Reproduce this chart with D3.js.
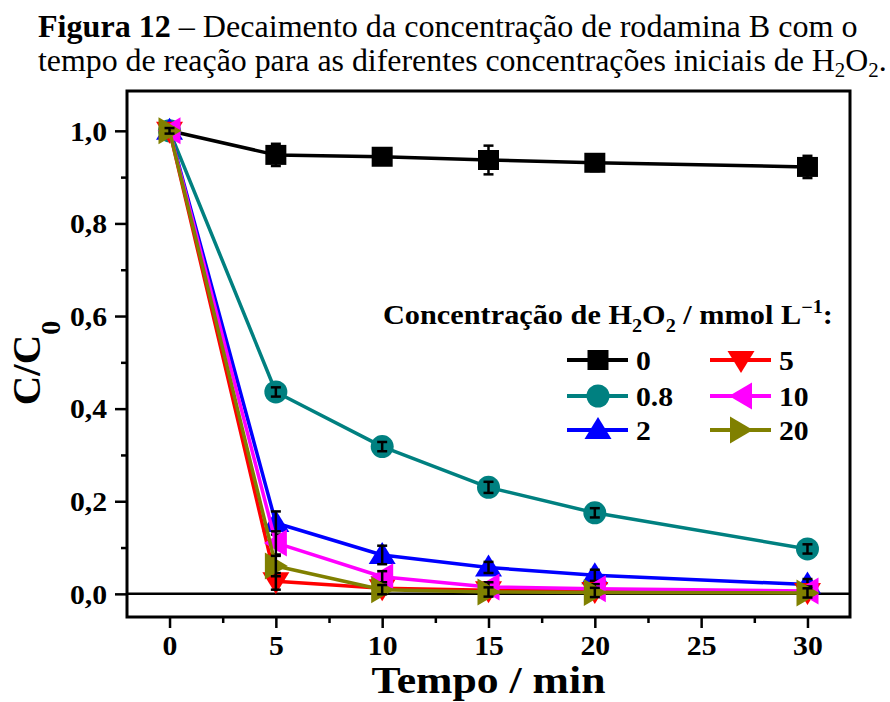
<!DOCTYPE html>
<html>
<head>
<meta charset="utf-8">
<script src="https://cdn.jsdelivr.net/npm/d3@7"></script>
<style>
  html, body { margin: 0; padding: 0; background: #fff; }
  svg { display: block; }
  text { font-family: "Liberation Serif", "Times New Roman", serif; fill: #000; }
</style>
</head>
<body>
<svg id="chart" width="890" height="702"></svg>
<script>
// Reaction time (min)
const times = [0, 5, 10, 15, 20, 30];

// C/C0 for each initial H2O2 concentration (mmol/L)
const c0   = [1.000, 0.948, 0.944, 0.937, 0.931, 0.922];
const c08  = [1.000, 0.436, 0.318, 0.230, 0.175, 0.097];
const c2   = [1.000, 0.153, 0.084, 0.057, 0.040, 0.020];
const c5   = [1.000, 0.027, 0.012, 0.008, 0.006, 0.004];
const c10  = [1.000, 0.110, 0.037, 0.015, 0.011, 0.006];
const c20  = [1.000, 0.060, 0.009, 0.004, 0.003, 0.002];

// Standard deviations
const e0   = [0.006, 0.024, 0.012, 0.031, 0.018, 0.024];
const e08  = [0.006, 0.010, 0.010, 0.012, 0.010, 0.010];
const e2   = [0.006, 0.025, 0.020, 0.012, 0.012, 0.012];
const e5   = [0.006, 0.018, 0.010, 0.010, 0.010, 0.010];
const e10  = [0.006, 0.025, 0.012, 0.010, 0.010, 0.010];
const e20  = [0.006, 0.022, 0.010, 0.010, 0.010, 0.010];

const seriesLabels = ["0", "0.8", "2", "5", "10", "20"];
const seriesColors = ["#000000", "#008080", "#0000ff", "#ff0000", "#ff00ff", "#808000"];
const seriesSymbols = ["square", "circle", "up", "down", "left", "right"];

const xMajor = [0, 5, 10, 15, 20, 25, 30];
const xMinor = [2.5, 7.5, 12.5, 17.5, 22.5, 27.5];
const yMajor = [0, 0.2, 0.4, 0.6, 0.8, 1.0];
const yMinor = [0.1, 0.3, 0.5, 0.7, 0.9];

const series = [
  { label: seriesLabels[0], values: c0,  errors: e0,  color: seriesColors[0], symbol: seriesSymbols[0] },
  { label: seriesLabels[1], values: c08, errors: e08, color: seriesColors[1], symbol: seriesSymbols[1] },
  { label: seriesLabels[2], values: c2,  errors: e2,  color: seriesColors[2], symbol: seriesSymbols[2] },
  { label: seriesLabels[3], values: c5,  errors: e5,  color: seriesColors[3], symbol: seriesSymbols[3] },
  { label: seriesLabels[4], values: c10, errors: e10, color: seriesColors[4], symbol: seriesSymbols[4] },
  { label: seriesLabels[5], values: c20, errors: e20, color: seriesColors[5], symbol: seriesSymbols[5] }
];

const svg = d3.select("#chart");
const frame = { left: 127, right: 850, top: 91, bottom: 617 };
const SX = 1.1; // horizontal stretch of the chart lettering

const x = d3.scaleLinear().domain([-2, 32]).range([frame.left, frame.right]);
const y = d3.scaleLinear().domain([-0.05, 1.086]).range([frame.bottom, frame.top]);

const comma = d => d3.format(".1f")(d).replace(".", ",");

// ---- Title ----
function fitWidth(node, target) {
  const w = node.getComputedTextLength();
  return target / w;
}
const t1 = svg.append("text").attr("font-size", 32);
t1.append("tspan").attr("font-weight", "bold").text("Figura 12");
t1.append("tspan").text(" – Decaimento da concentração de rodamina B com o");
t1.attr("transform", `translate(38,37) scale(${fitWidth(t1.node(), 820)},1)`);

const t2 = svg.append("text").attr("font-size", 32);
t2.append("tspan").text("tempo de reação para as diferentes concentrações iniciais de H");
t2.append("tspan").attr("font-size", 21).attr("dy", 6).text("2");
t2.append("tspan").attr("dy", -6).text("O");
t2.append("tspan").attr("font-size", 21).attr("dy", 6).text("2");
t2.append("tspan").attr("dy", -6).text(".");
t2.attr("transform", `translate(38,71) scale(${fitWidth(t2.node(), 849)},1)`);

// ---- Frame ----
svg.append("rect")
  .attr("x", frame.left).attr("y", frame.top)
  .attr("width", frame.right - frame.left).attr("height", frame.bottom - frame.top)
  .attr("fill", "none").attr("stroke", "#000").attr("stroke-width", 3);

// ---- Axes ----
const gx = svg.append("g").attr("transform", `translate(0,${frame.bottom})`)
  .call(d3.axisBottom(x).tickValues(xMajor).tickSize(11).tickFormat(d3.format("d")));
const gxm = svg.append("g").attr("transform", `translate(0,${frame.bottom})`)
  .call(d3.axisBottom(x).tickValues(xMinor).tickSize(6).tickFormat(""));
const gy = svg.append("g").attr("transform", `translate(${frame.left},0)`)
  .call(d3.axisLeft(y).tickValues(yMajor).tickSize(12).tickFormat(comma));
const gym = svg.append("g").attr("transform", `translate(${frame.left},0)`)
  .call(d3.axisLeft(y).tickValues(yMinor).tickSize(6).tickFormat(""));

[gx, gxm, gy, gym].forEach(g => {
  g.select(".domain").remove();
  g.selectAll(".tick line").attr("stroke", "#000").attr("stroke-width", 2.5);
  g.selectAll("text").attr("font-family", "Liberation Serif, serif")
    .attr("font-weight", "bold").attr("font-size", 27).attr("fill", "#000");
});
gx.selectAll(".tick text").attr("y", 0).attr("dy", 0)
  .attr("transform", `translate(0,38) scale(${SX},1)`);
gy.selectAll(".tick text").attr("x", 0).attr("dy", "0.34em")
  .attr("transform", `translate(-20,0) scale(${SX},1)`);

// Axis titles
svg.append("text")
  .attr("text-anchor", "middle").attr("font-weight", "bold").attr("font-size", 38)
  .attr("transform", `translate(${(frame.left + frame.right) / 2},693) scale(1.15,1)`)
  .text("Tempo / min");

const yt = svg.append("text")
  .attr("text-anchor", "middle").attr("font-weight", "bold").attr("font-size", 41)
  .attr("transform", "translate(40,363) rotate(-90)");
yt.append("tspan").text("C/C");
yt.append("tspan").attr("font-size", 28).attr("dy", 20).text("0");

// Zero reference line
svg.append("line")
  .attr("x1", frame.left).attr("x2", frame.right)
  .attr("y1", y(0)).attr("y2", y(0))
  .attr("stroke", "#000").attr("stroke-width", 2.5);

// ---- Symbols ----
function symbolPath(type) {
  switch (type) {
    case "square": return "M-10.5,-10 H10.5 V10 H-10.5 Z";
    case "circle": { const p = d3.path(); p.arc(0, 0, 11.5, 0, 2 * Math.PI); return p.toString(); }
    case "up":    return "M0,-13 L13.5,9 L-13.5,9 Z";
    case "down":  return "M0,13 L13.5,-9 L-13.5,-9 Z";
    case "left":  return "M-12,0 L11,-13.5 L11,13.5 Z";
    case "right": return "M12,0 L-11,-13.5 L-11,13.5 Z";
  }
}

const line = d3.line().x(d => x(d[0])).y(d => y(d[1]));
const plot = svg.append("g");

series.forEach(s => {
  const pts = times.map((t, i) => [t, s.values[i], s.errors[i]]);
  const g = plot.append("g");
  g.append("path").datum(pts).attr("d", line)
    .attr("fill", "none").attr("stroke", s.color).attr("stroke-width", 3.5)
    .attr("stroke-linejoin", "round");
  g.selectAll("path.sym").data(pts).join("path").attr("class", "sym")
    .attr("d", symbolPath(s.symbol))
    .attr("transform", d => `translate(${x(d[0])},${y(d[1])})`)
    .attr("fill", s.color);
  const eb = g.selectAll("g.err").data(pts).join("g").attr("class", "err")
    .attr("stroke", "#000").attr("stroke-width", 2.5);
  eb.append("line")
    .attr("x1", d => x(d[0])).attr("x2", d => x(d[0]))
    .attr("y1", d => y(d[1] - d[2])).attr("y2", d => y(d[1] + d[2]));
  eb.append("line")
    .attr("x1", d => x(d[0]) - 5).attr("x2", d => x(d[0]) + 5)
    .attr("y1", d => y(d[1] - d[2])).attr("y2", d => y(d[1] - d[2]));
  eb.append("line")
    .attr("x1", d => x(d[0]) - 5).attr("x2", d => x(d[0]) + 5)
    .attr("y1", d => y(d[1] + d[2])).attr("y2", d => y(d[1] + d[2]));
});

// ---- Legend ----
const lt = svg.append("text").attr("font-weight", "bold").attr("font-size", 27);
lt.append("tspan").text("Concentração de H");
lt.append("tspan").attr("font-size", 18).attr("dy", 8).text("2");
lt.append("tspan").attr("dy", -8).text("O");
lt.append("tspan").attr("font-size", 18).attr("dy", 8).text("2");
lt.append("tspan").attr("dy", -8).text(" / mmol L");
lt.append("tspan").attr("font-size", 18).attr("dy", -11).text("−1");
lt.append("tspan").attr("dy", 11).text(":");
lt.attr("transform", `translate(383,324) scale(${fitWidth(lt.node(), 450)},1)`);

const legCols = [567, 710];
const legRows = [360, 396, 430];
const legend = svg.append("g");
series.forEach((s, i) => {
  const lx = legCols[Math.floor(i / 3)];
  const ly = legRows[i % 3];
  const g = legend.append("g").attr("transform", `translate(${lx},${ly})`);
  g.append("line").attr("x1", 0).attr("x2", 61).attr("y1", 0).attr("y2", 0)
    .attr("stroke", s.color).attr("stroke-width", 4);
  g.append("path").attr("d", symbolPath(s.symbol))
    .attr("transform", "translate(31,0)").attr("fill", s.color);
  g.append("text").attr("font-weight", "bold").attr("font-size", 27)
    .attr("transform", `translate(69,10) scale(${SX},1)`).text(s.label);
});
</script>
</body>
</html>
